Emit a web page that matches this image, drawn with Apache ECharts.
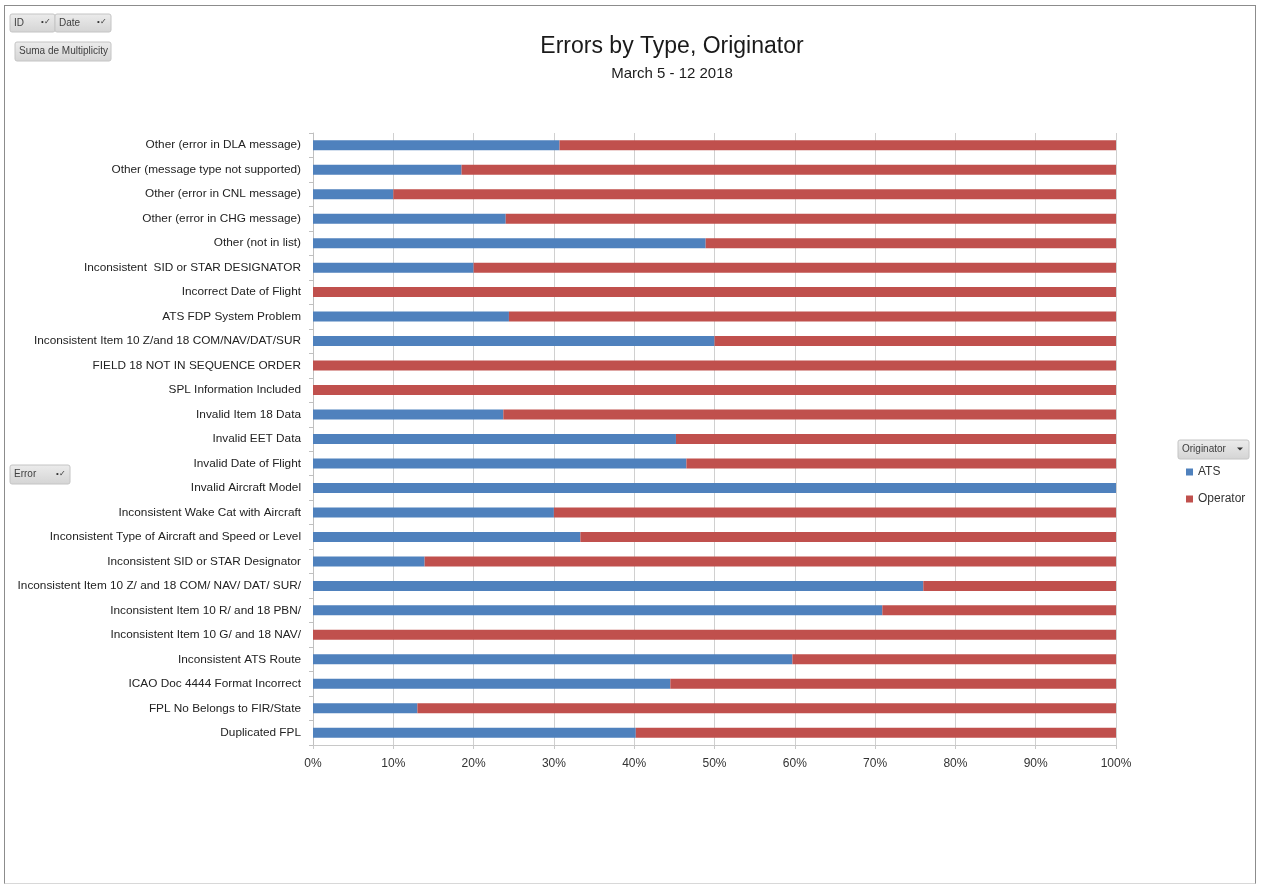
<!DOCTYPE html>
<html>
<head>
<meta charset="utf-8">
<script src="https://cdn.jsdelivr.net/npm/echarts@6/dist/echarts.min.js"></script>
<style>
html,body{margin:0;padding:0;background:#fff;}
#frame{position:absolute;left:4px;top:5px;width:1252px;height:879px;border:1px solid #8c8c8c;border-bottom-color:#d8d8d8;box-sizing:border-box;}
#chart{position:absolute;left:0;top:0;width:1261px;height:886px;}
</style>
</head>
<body>
<div id="frame"></div>
<div id="chart"></div>
<script>
var categories = [
  "Other (error in DLA message)",
  "Other (message type not supported)",
  "Other (error in CNL message)",
  "Other (error in CHG message)",
  "Other (not in list)",
  "Inconsistent  SID or STAR DESIGNATOR",
  "Incorrect Date of Flight",
  "ATS FDP System Problem",
  "Inconsistent Item 10 Z/and 18 COM/NAV/DAT/SUR",
  "FIELD 18 NOT IN SEQUENCE ORDER",
  "SPL Information Included",
  "Invalid Item 18 Data",
  "Invalid EET Data",
  "Invalid Date of Flight",
  "Invalid Aircraft Model",
  "Inconsistent Wake Cat with Aircraft",
  "Inconsistent Type of Aircraft and Speed or Level",
  "Inconsistent SID or STAR Designator",
  "Inconsistent Item 10 Z/ and 18 COM/ NAV/ DAT/ SUR/",
  "Inconsistent Item 10 R/ and 18 PBN/",
  "Inconsistent Item 10 G/ and 18 NAV/",
  "Inconsistent ATS Route",
  "ICAO Doc 4444 Format Incorrect",
  "FPL No Belongs to FIR/State",
  "Duplicated FPL"
];
var atsPct = [30.7, 18.5, 10.0, 24.0, 48.9, 20.0, 0, 24.4, 50.0, 0, 0, 23.7,
              45.2, 46.5, 100, 30.0, 33.3, 13.9, 76.0, 70.9, 0, 59.7, 44.5, 13.0, 40.2];
var operatorPct = [69.3, 81.5, 90.0, 76.0, 51.1, 80.0, 100, 75.6, 50.0, 100, 100, 76.3,
                   54.8, 53.5, 0, 70.0, 66.7, 86.1, 24.0, 29.1, 100, 40.3, 55.5, 87.0, 59.8];
var xTicks = [0, 10, 20, 30, 40, 50, 60, 70, 80, 90, 100];

var FONT = "'Liberation Sans',sans-serif";

function pivotButton(x, y, w, h, label, arrow) {
  var children = [
    {type:'rect', shape:{x:0,y:0,width:w,height:h,r:2},
     style:{fill:{type:'linear',x:0,y:0,x2:0,y2:1,colorStops:[{offset:0,color:'#ececec'},{offset:1,color:'#d4d4d4'}]},
            stroke:'#c4c4c4',lineWidth:1}},
    {type:'text', style:{x:4,y:h/2,text:label,fill:'#404040',font:'10px '+FONT,textVerticalAlign:'middle'}}
  ];
  if (arrow === 'filter') {
    children.push({type:'text', style:{x:w-14,y:h/2-1,text:'\u2022\u2713',fill:'#333',font:'8px '+FONT,textVerticalAlign:'middle'}});
  } else if (arrow === 'down') {
    children.push({type:'polygon', shape:{points:[[w-12,h/2-2],[w-6,h/2-2],[w-9,h/2+1]]}, style:{fill:'#333'}});
  }
  return {type:'group', x:x, y:y, children:children};
}

var chart = echarts.init(document.getElementById('chart'));
chart.setOption({
  animation: false,
  backgroundColor: 'transparent',
  title: [
    {text:'Errors by Type, Originator', left:667, top:30, textAlign:'center',
     textStyle:{fontFamily:FONT, fontSize:23, fontWeight:'normal', color:'#1a1a1a'}},
    {text:'March 5 - 12 2018', left:667, top:61, textAlign:'center',
     textStyle:{fontFamily:FONT, fontSize:15, fontWeight:'normal', color:'#1a1a1a'}}
  ],
  legend: {
    orient:'vertical', left:1181, top:461, itemWidth:7, itemHeight:7, itemGap:15,
    icon:'rect',
    textStyle:{fontFamily:FONT, fontSize:12, color:'#333'},
    data:['ATS','Operator']
  },
  grid: {left:313, right:145, top:133, height:612, containLabel:false},
  xAxis: {
    type:'value', min:0, max:100, interval:10,
    axisLabel:{formatter:function(v){return v+'%';}, fontFamily:FONT, fontSize:12, color:'#333', margin:13},
    axisLine:{show:true, lineStyle:{color:'#c8c8c8'}},
    axisTick:{show:true, length:4, lineStyle:{color:'#c8c8c8'}},
    splitLine:{show:true, lineStyle:{color:'#d0d0d0'}}
  },
  yAxis: {
    type:'category', data:categories, inverse:true,
    axisLabel:{fontFamily:FONT, fontSize:11.8, color:'#222', margin:12},
    axisLine:{show:true, lineStyle:{color:'#c0c0c0'}},
    axisTick:{show:true, length:4, lineStyle:{color:'#c0c0c0'}}
  },
  series: [
    {name:'ATS', type:'bar', stack:'total', data:atsPct, barWidth:10,
     itemStyle:{color:'#4f81bd'}},
    {name:'Operator', type:'bar', stack:'total', data:operatorPct, barWidth:10,
     itemStyle:{color:'#c0504d'}}
  ],
  graphic: [
    pivotButton(10, 14, 45, 18, 'ID', 'filter'),
    pivotButton(55, 14, 56, 18, 'Date', 'filter'),
    pivotButton(15, 42, 96, 19, 'Suma de Multiplicity', null),
    pivotButton(10, 465, 60, 19, 'Error', 'filter'),
    pivotButton(1178, 440, 71, 19, 'Originator', 'down')
  ]
});
</script>
</body>
</html>
